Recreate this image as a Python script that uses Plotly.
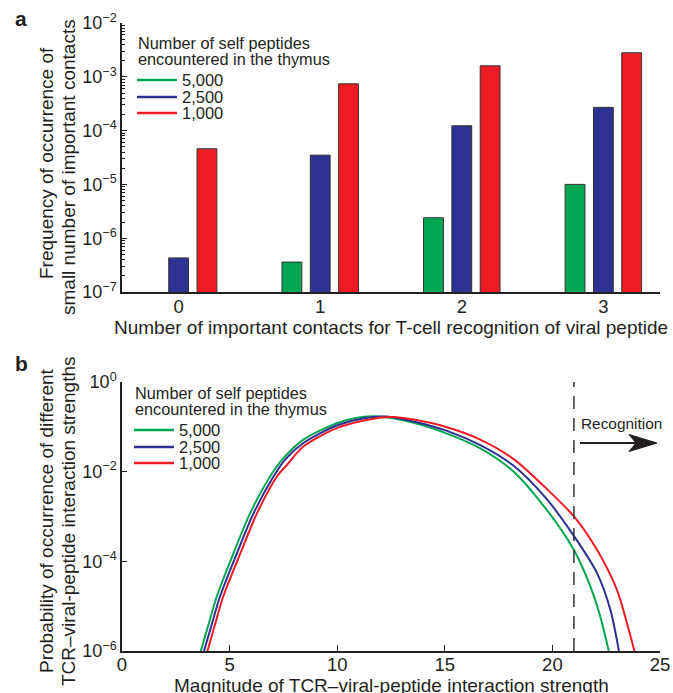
import plotly.graph_objects as go

W, H = 673, 693
FONT = "Liberation Sans, Arial, Helvetica, sans-serif"
INK = "#231f20"

# ---------------- Panel a data ----------------
contacts = [0, 1, 2, 3]
contact_labels = ["0", "1", "2", "3"]
series_names = ["5,000", "2,500", "1,000"]
series_colors = ["#00a651", "#2e3192", "#ed1c24"]
freq_5000 = [None, 3.6e-7, 2.4e-6, 1.0e-5]
freq_2500 = [4.3e-7, 3.5e-5, 1.23e-4, 2.7e-4]
freq_1000 = [4.6e-5, 7.4e-4, 1.6e-3, 2.8e-3]
a_ytickvals = [1e-7, 1e-6, 1e-5, 1e-4, 1e-3, 1e-2]
a_yticktext = ["10<sup>−7</sup>", "10<sup>−6</sup>", "10<sup>−5</sup>",
               "10<sup>−4</sup>", "10<sup>−3</sup>", "10<sup>−2</sup>"]

# ---------------- Panel b data ----------------
strength_5000 = [3.66, 4.0, 4.4, 5.18, 5.95, 6.88, 7.5, 8.43, 9.98, 11.0, 12.0,
                 13.55, 15.1, 16.65, 18.2, 19.75, 21.0, 21.77, 22.23, 22.62]
prob_5000 = [1e-6, 3.6e-6, 1.62e-5, 1.51e-4, 1.17e-3, 7.8e-3, 0.020, 0.052, 0.120, 0.162, 0.170,
             0.123, 0.0708, 0.0331, 0.010, 1.38e-3, 1.78e-4, 2.7e-5, 5.75e-6, 1e-6]
strength_2500 = [3.81, 4.15, 4.55, 5.34, 6.11, 7.04, 7.6, 8.43, 9.98, 11.3, 12.3,
                 13.55, 15.1, 16.65, 18.2, 19.75, 21.02, 22.08, 22.7, 23.09]
prob_2500 = [1e-6, 3.6e-6, 1.62e-5, 1.51e-4, 1.17e-3, 7.8e-3, 0.019, 0.0437, 0.107, 0.158, 0.170,
             0.132, 0.0813, 0.0389, 0.0135, 2.4e-3, 3.55e-4, 5.4e-5, 8.1e-6, 1e-6]
strength_1000 = [3.97, 4.3, 4.7, 5.5, 6.27, 7.2, 7.66, 8.43, 9.98, 11.53, 12.6,
                 13.55, 15.1, 16.65, 18.2, 19.75, 21.02, 22.08, 23.0, 23.47, 23.81]
prob_1000 = [1e-6, 3.6e-6, 1.62e-5, 1.51e-4, 1.17e-3, 7.8e-3, 0.0141, 0.0363, 0.0933, 0.148, 0.166,
             0.145, 0.0977, 0.052, 0.019, 4.07e-3, 9.8e-4, 1.78e-4, 2.3e-5, 4.1e-6, 1e-6]
recognition_threshold = 21
b_xtickvals = [0, 5, 10, 15, 20, 25]
b_ytickvals = [1e-6, 1e-4, 1e-2, 1]
b_yticktext = ["10<sup>−6</sup>", "10<sup>−4</sup>", "10<sup>−2</sup>", "10<sup>0</sup>"]


def px(x):
    return x / W


def py(y):
    return 1 - y / H


fig = go.Figure()

for name, color, vals in zip(series_names, series_colors, [freq_5000, freq_2500, freq_1000]):
    fig.add_trace(go.Bar(
        x=contacts, y=vals, name=name, showlegend=False,
        marker=dict(color=color, line=dict(color="#333333", width=1)),
        xaxis="x", yaxis="y"))

for name, color, xs, ys in zip(series_names, series_colors,
                               [strength_5000, strength_2500, strength_1000],
                               [prob_5000, prob_2500, prob_1000]):
    fig.add_trace(go.Scatter(
        x=xs, y=ys, name=name, mode="lines", showlegend=False,
        line=dict(color=color, width=2, shape="spline", smoothing=0.8),
        xaxis="x2", yaxis="y2"))

xdom = [px(122), px(660)]
axis_common = dict(showline=True, linecolor=INK, linewidth=1.5, showgrid=False,
                   zeroline=False, automargin=False,
                   tickcolor=INK, tickwidth=1.2)
xtickfont = dict(family=FONT, size=18.5, color=INK)
ytickfont = dict(family=FONT, size=18, color=INK)

minor_vals = [k * 10 ** e for e in range(-7, -2) for k in range(2, 10)]

fig.update_layout(
    width=W, height=H,
    margin=dict(l=0, r=0, t=0, b=0, autoexpand=False),
    paper_bgcolor="white", plot_bgcolor="white",
    font=dict(family=FONT, color=INK),
    barmode="group", bargap=0.4, bargroupgap=0.3,
    xaxis=dict(domain=xdom, range=[-0.4, 3.4], tickmode="array", tickvals=contacts,
               ticktext=contact_labels, ticks="", anchor="y", tickfont=xtickfont,
               ticklabelstandoff=-3, **axis_common),
    yaxis=dict(domain=[py(292), py(23)], type="log", range=[-7, -2], tickmode="array",
               tickvals=a_ytickvals, ticktext=a_yticktext, ticks="inside", ticklen=5,
               minor=dict(tickmode="array", tickvals=minor_vals, ticks="inside",
                          ticklen=3, tickcolor=INK, showgrid=False),
               anchor="x", tickfont=ytickfont, **axis_common),
    xaxis2=dict(domain=xdom, range=[0, 25], tickmode="array", tickvals=b_xtickvals,
                ticks="inside", ticklen=6, anchor="y2", tickfont=xtickfont,
                ticklabelstandoff=-4, **axis_common),
    yaxis2=dict(domain=[py(651), py(382)], type="log", range=[-6, 0], tickmode="array",
                tickvals=b_ytickvals, ticktext=b_yticktext, ticks="inside", ticklen=5,
                anchor="x2", tickfont=ytickfont, **axis_common),
)

ann = []
shapes = []


def text(t, x, y, size, xanchor="center", angle=0, bold=False):
    ann.append(dict(text=(f"<b>{t}</b>" if bold else t), x=px(x), y=py(y),
                    xref="paper", yref="paper", xanchor=xanchor, yanchor="middle",
                    textangle=angle, showarrow=False,
                    font=dict(size=size, family=FONT, color=INK)))


# panel letters
text("a", 21, 18, 21, bold=True)
text("b", 21, 363, 21, bold=True)

# axis titles
text("Frequency of occurrence of", 46, 163, 19, angle=-90)
text("small number of important contacts", 68, 167, 19, angle=-90)
text("Number of important contacts for T-cell recognition of viral peptide", 391, 327, 19)
text("Probability of occurrence of different", 46, 521, 19, angle=-90)
text("TCR–viral-peptide interaction strengths", 68, 521, 19, angle=-90)
text("Magnitude of TCR–viral-peptide interaction strength", 391, 685, 19)


# legends (drawn)
def legend(x0, ytitle, ylines):
    text("Number of self peptides", x0 - 1, ytitle, 16.3, xanchor="left")
    text("encountered in the thymus", x0 - 1, ytitle + 16, 16.3, xanchor="left")
    for name, color, yl in zip(series_names, series_colors, ylines):
        shapes.append(dict(type="line", xref="paper", yref="paper",
                           x0=px(x0), x1=px(x0 + 40), y0=py(yl), y1=py(yl),
                           line=dict(color=color, width=2.5)))
        text(name, x0 + 43, yl, 16.5, xanchor="left")


legend(137, 43, [80, 97, 113])
legend(134, 393, [430, 447, 463])

# recognition threshold
shapes.append(dict(type="line", xref="x2", yref="y2 domain",
                   x0=recognition_threshold, x1=recognition_threshold, y0=0, y1=1,
                   line=dict(color="#333333", width=1.5, dash="13px,9px")))
text("Recognition", 579, 423, 15.4, xanchor="left")
shapes.append(dict(type="line", xref="paper", yref="paper",
                   x0=px(580), x1=px(640), y0=py(443), y1=py(443),
                   line=dict(color=INK, width=2)))
shapes.append(dict(type="path", xref="paper", yref="paper",
                   path=(f"M {px(657)} {py(443)} L {px(629)} {py(434.5)} "
                         f"L {px(636)} {py(443)} L {px(629)} {py(451.5)} Z"),
                   fillcolor=INK, line=dict(color=INK, width=1)))

fig.update_layout(annotations=ann, shapes=shapes)
fig.write_html(
    "out.html",
    config={"displayModeBar": False},
    post_script="document.body.style.margin='0';document.body.style.padding='0';"
                "document.body.style.overflow='hidden';",
)
